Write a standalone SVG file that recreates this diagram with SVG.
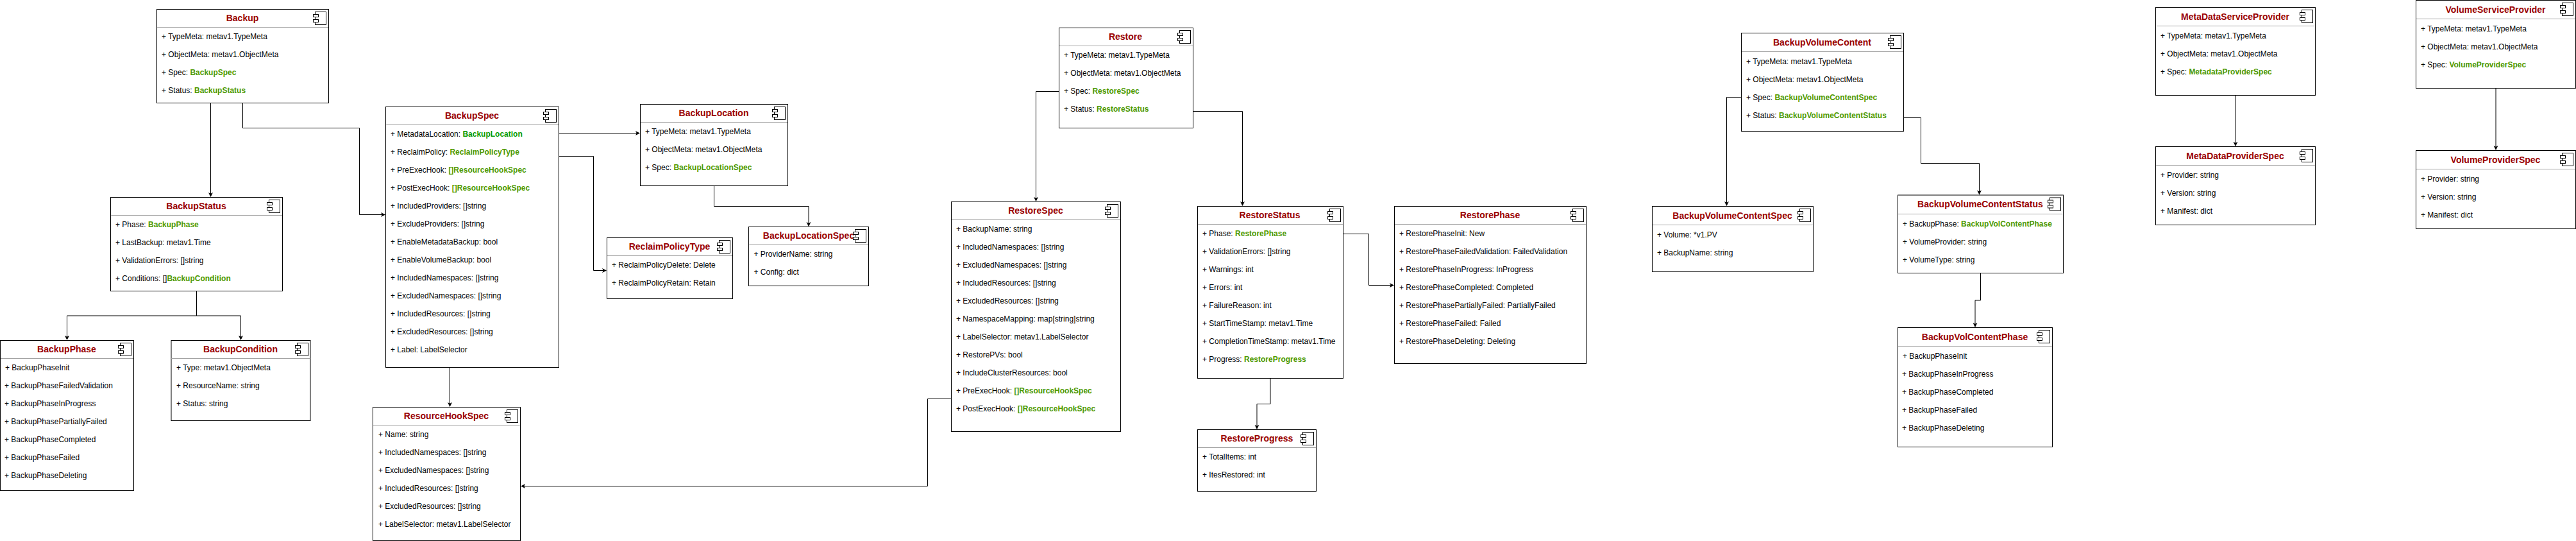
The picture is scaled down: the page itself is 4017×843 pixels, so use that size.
<svg xmlns="http://www.w3.org/2000/svg" width="4017" height="843" viewBox="0 0 4017 843">
<style>
text{font-family:"Liberation Sans",Arial,sans-serif}
.b{fill:#fff;stroke:#000;stroke-width:1}
.d{stroke:#a0a0a0;stroke-width:1;fill:none}
.t{font-size:14px;font-weight:bold;fill:#990000;text-anchor:middle}
.r{font-size:12px;fill:#000}
.g{font-weight:bold;fill:#4d9900}
.h{font-weight:bold;fill:#009900}
.c{fill:none;stroke:#000;stroke-width:1}
.i{fill:#fff;stroke:#000;stroke-width:1}
</style>
<defs>
<marker id="arrow" markerUnits="userSpaceOnUse" markerWidth="10" markerHeight="10" refX="4" refY="4" orient="auto" overflow="visible"><path d="M0,0.5 L7,4 L0,7.5 L1.75,4 Z" fill="#000"/></marker>
<g id="icon"><rect class="i" x="-21" y="4" width="17" height="20"/><rect class="i" x="-24" y="8" width="8" height="4"/><rect class="i" x="-24" y="16" width="8" height="4"/></g>
</defs>
<g id="Backup"><rect class="b" x="244.5" y="14.5" width="268" height="146"/><line class="d" x1="245" y1="42.5" x2="512" y2="42.5"/><text class="t" x="378" y="33">Backup</text><use href="#icon" transform="translate(512.5,14.5)"/>
<text class="r" x="252" y="61">+ TypeMeta: metav1.TypeMeta</text><text class="r" x="252" y="89">+ ObjectMeta: metav1.ObjectMeta</text><text class="r" x="252" y="117">+ Spec: <tspan class="g">BackupSpec</tspan></text><text class="r" x="252" y="145">+ Status: <tspan class="g">BackupStatus</tspan></text></g>
<g id="BackupStatus"><rect class="b" x="172.5" y="307.5" width="268" height="146"/><line class="d" x1="173" y1="335.5" x2="440" y2="335.5"/><text class="t" x="306" y="326">BackupStatus</text><use href="#icon" transform="translate(440.5,307.5)"/>
<text class="r" x="180" y="354">+ Phase: <tspan class="g">BackupPhase</tspan></text><text class="r" x="180" y="382">+ LastBackup: metav1.Time</text><text class="r" x="180" y="410">+ ValidationErrors: []string</text><text class="r" x="180" y="438">+ Conditions: []<tspan class="g">BackupCondition</tspan></text></g>
<g id="BackupPhase"><rect class="b" x="0.5" y="530.5" width="208" height="234"/><line class="d" x1="1" y1="558.5" x2="208" y2="558.5"/><text class="t" x="104" y="549">BackupPhase</text><use href="#icon" transform="translate(208.5,530.5)"/>
<text class="r" x="8" y="577">+ BackupPhaseInit</text><text class="r" x="7" y="605">+ BackupPhaseFailedValidation</text><text class="r" x="7" y="633">+ BackupPhaseInProgress</text><text class="r" x="7" y="661">+ BackupPhasePartiallyFailed</text><text class="r" x="7" y="689">+ BackupPhaseCompleted</text><text class="r" x="7" y="717">+ BackupPhaseFailed</text><text class="r" x="7" y="745">+ BackupPhaseDeleting</text></g>
<g id="BackupCondition"><rect class="b" x="267" y="530.5" width="217" height="125"/><line class="d" x1="267" y1="558.5" x2="484" y2="558.5"/><text class="t" x="375" y="549">BackupCondition</text><use href="#icon" transform="translate(484.5,530.5)"/>
<text class="r" x="275" y="577">+ Type: metav1.ObjectMeta</text><text class="r" x="275" y="605">+ ResourceName: string</text><text class="r" x="275" y="633">+ Status: string</text></g>
<g id="BackupSpec"><rect class="b" x="601.5" y="166.5" width="270" height="406"/><line class="d" x1="602" y1="194.5" x2="871" y2="194.5"/><text class="t" x="736" y="185">BackupSpec</text><use href="#icon" transform="translate(871.5,166.5)"/>
<text class="r" x="609" y="213">+ MetadataLocation: <tspan class="h">BackupLocation</tspan></text><text class="r" x="609" y="241">+ ReclaimPolicy: <tspan class="g">ReclaimPolicyType</tspan></text><text class="r" x="609" y="269">+ PreExecHook: <tspan class="g">[]ResourceHookSpec</tspan></text><text class="r" x="609" y="297">+ PostExecHook: <tspan class="g">[]ResourceHookSpec</tspan></text><text class="r" x="609" y="325">+ IncludedProviders: []string</text><text class="r" x="609" y="353">+ ExcludeProviders: []string</text><text class="r" x="609" y="381">+ EnableMetadataBackup: bool</text><text class="r" x="609" y="409">+ EnableVolumeBackup: bool</text><text class="r" x="609" y="437">+ IncludedNamespaces: []string</text><text class="r" x="609" y="465">+ ExcludedNamespaces: []string</text><text class="r" x="609" y="493">+ IncludedResources: []string</text><text class="r" x="609" y="521">+ ExcludedResources: []string</text><text class="r" x="609" y="549">+ Label: LabelSelector</text></g>
<g id="BackupLocation"><rect class="b" x="998.5" y="162.5" width="230" height="127"/><line class="d" x1="999" y1="190.5" x2="1228" y2="190.5"/><text class="t" x="1113" y="181">BackupLocation</text><use href="#icon" transform="translate(1228.5,162.5)"/>
<text class="r" x="1006" y="209">+ TypeMeta: metav1.TypeMeta</text><text class="r" x="1006" y="237">+ ObjectMeta: metav1.ObjectMeta</text><text class="r" x="1006" y="265">+ Spec: <tspan class="g">BackupLocationSpec</tspan></text></g>
<g id="ReclaimPolicyType"><rect class="b" x="946.5" y="370.5" width="196" height="95"/><line class="d" x1="947" y1="398.5" x2="1142" y2="398.5"/><text class="t" x="1044" y="389">ReclaimPolicyType</text><use href="#icon" transform="translate(1142.5,370.5)"/>
<text class="r" x="954" y="417">+ ReclaimPolicyDelete: Delete</text><text class="r" x="954" y="445">+ ReclaimPolicyRetain: Retain</text></g>
<g id="BackupLocationSpec"><rect class="b" x="1167.5" y="353.5" width="187" height="92"/><line class="d" x1="1168" y1="381.5" x2="1354" y2="381.5"/><text class="t" x="1261" y="372">BackupLocationSpec</text><use href="#icon" transform="translate(1354.5,353.5)"/>
<text class="r" x="1175.5" y="400">+ ProviderName: string</text><text class="r" x="1175.5" y="428">+ Config: dict</text></g>
<g id="ResourceHookSpec"><rect class="b" x="581.5" y="634.5" width="230" height="208"/><line class="d" x1="582" y1="662.5" x2="811" y2="662.5"/><text class="t" x="696" y="653">ResourceHookSpec</text><use href="#icon" transform="translate(811.5,634.5)"/>
<text class="r" x="590" y="681">+ Name: string</text><text class="r" x="590" y="709">+ IncludedNamespaces: []string</text><text class="r" x="590" y="737">+ ExcludedNamespaces: []string</text><text class="r" x="590" y="765">+ IncludedResources: []string</text><text class="r" x="590" y="793">+ ExcludedResources: []string</text><text class="r" x="590" y="821">+ LabelSelector: metav1.LabelSelector</text></g>
<g id="Restore"><rect class="b" x="1651.5" y="43.5" width="209" height="156"/><line class="d" x1="1652" y1="71.5" x2="1860" y2="71.5"/><text class="t" x="1755" y="62">Restore</text><use href="#icon" transform="translate(1860.5,43.5)"/>
<text class="r" x="1659" y="90">+ TypeMeta: metav1.TypeMeta</text><text class="r" x="1659" y="118">+ ObjectMeta: metav1.ObjectMeta</text><text class="r" x="1659" y="146">+ Spec: <tspan class="g">RestoreSpec</tspan></text><text class="r" x="1659" y="174">+ Status: <tspan class="g">RestoreStatus</tspan></text></g>
<g id="RestoreSpec"><rect class="b" x="1483.5" y="314.5" width="264" height="358"/><line class="d" x1="1484" y1="342.5" x2="1747" y2="342.5"/><text class="t" x="1615" y="333">RestoreSpec</text><use href="#icon" transform="translate(1747.5,314.5)"/>
<text class="r" x="1491" y="361">+ BackupName: string</text><text class="r" x="1491" y="389">+ IncludedNamespaces: []string</text><text class="r" x="1491" y="417">+ ExcludedNamespaces: []string</text><text class="r" x="1491" y="445">+ IncludedResources: []string</text><text class="r" x="1491" y="473">+ ExcludedResources: []string</text><text class="r" x="1491" y="501">+ NamespaceMapping: map[string]string</text><text class="r" x="1491" y="529">+ LabelSelector: metav1.LabelSelector</text><text class="r" x="1491" y="557">+ RestorePVs: bool</text><text class="r" x="1491" y="585">+ IncludeClusterResources: bool</text><text class="r" x="1491" y="613">+ PreExecHook: <tspan class="g">[]ResourceHookSpec</tspan></text><text class="r" x="1491" y="641">+ PostExecHook: <tspan class="g">[]ResourceHookSpec</tspan></text></g>
<g id="RestoreStatus"><rect class="b" x="1867.5" y="321.5" width="227" height="268"/><line class="d" x1="1868" y1="349.5" x2="2094" y2="349.5"/><text class="t" x="1980" y="340">RestoreStatus</text><use href="#icon" transform="translate(2094.5,321.5)"/>
<text class="r" x="1875" y="368">+ Phase: <tspan class="g">RestorePhase</tspan></text><text class="r" x="1875" y="396">+ ValidationErrors: []string</text><text class="r" x="1875" y="424">+ Warnings: int</text><text class="r" x="1875" y="452">+ Errors: int</text><text class="r" x="1875" y="480">+ FailureReason: int</text><text class="r" x="1875" y="508">+ StartTimeStamp: metav1.Time</text><text class="r" x="1875" y="536">+ CompletionTimeStamp: metav1.Time</text><text class="r" x="1875" y="564">+ Progress: <tspan class="g">RestoreProgress</tspan></text></g>
<g id="RestoreProgress"><rect class="b" x="1867.5" y="669.5" width="185" height="96"/><line class="d" x1="1868" y1="697.5" x2="2052" y2="697.5"/><text class="t" x="1960" y="688">RestoreProgress</text><use href="#icon" transform="translate(2052.5,669.5)"/>
<text class="r" x="1875" y="716">+ TotalItems: int</text><text class="r" x="1875" y="744">+ ItesRestored: int</text></g>
<g id="RestorePhase"><rect class="b" x="2174.5" y="321.5" width="299" height="245"/><line class="d" x1="2175" y1="349.5" x2="2473" y2="349.5"/><text class="t" x="2323.5" y="340">RestorePhase</text><use href="#icon" transform="translate(2473.5,321.5)"/>
<text class="r" x="2182" y="368">+ RestorePhaseInit: New</text><text class="r" x="2182" y="396">+ RestorePhaseFailedValidation: FailedValidation</text><text class="r" x="2182" y="424">+ RestorePhaseInProgress: InProgress</text><text class="r" x="2182" y="452">+ RestorePhaseCompleted: Completed</text><text class="r" x="2182" y="480">+ RestorePhasePartiallyFailed: PartiallyFailed</text><text class="r" x="2182" y="508">+ RestorePhaseFailed: Failed</text><text class="r" x="2182" y="536">+ RestorePhaseDeleting: Deleting</text></g>
<g id="BackupVolumeContent"><rect class="b" x="2715.5" y="51.5" width="253" height="153"/><line class="d" x1="2716" y1="80.5" x2="2968" y2="80.5"/><text class="t" x="2841.5" y="71">BackupVolumeContent</text><use href="#icon" transform="translate(2968.5,51.5)"/>
<text class="r" x="2723" y="100">+ TypeMeta: metav1.TypeMeta</text><text class="r" x="2723" y="128">+ ObjectMeta: metav1.ObjectMeta</text><text class="r" x="2723" y="156">+ Spec: <tspan class="g">BackupVolumeContentSpec</tspan></text><text class="r" x="2723" y="184">+ Status: <tspan class="g">BackupVolumeContentStatus</tspan></text></g>
<g id="BackupVolumeContentSpec"><rect class="b" x="2576.5" y="321.5" width="251" height="102"/><line class="d" x1="2577" y1="350.5" x2="2827" y2="350.5"/><text class="t" x="2701.5" y="341">BackupVolumeContentSpec</text><use href="#icon" transform="translate(2827.5,321.5)"/>
<text class="r" x="2584" y="370">+ Volume: *v1.PV</text><text class="r" x="2584" y="398">+ BackupName: string</text></g>
<g id="BackupVolumeContentStatus"><rect class="b" x="2959.5" y="304" width="258" height="121.5"/><line class="d" x1="2960" y1="333.5" x2="3217" y2="333.5"/><text class="t" x="3088" y="323">BackupVolumeContentStatus</text><use href="#icon" transform="translate(3217.5,304)"/>
<text class="r" x="2967" y="353">+ BackupPhase: <tspan class="g">BackupVolContentPhase</tspan></text><text class="r" x="2967" y="381">+ VolumeProvider: string</text><text class="r" x="2967" y="409">+ VolumeType: string</text></g>
<g id="BackupVolContentPhase"><rect class="b" x="2959.5" y="510.5" width="241" height="186"/><line class="d" x1="2960" y1="539.5" x2="3200" y2="539.5"/><text class="t" x="3079.5" y="530">BackupVolContentPhase</text><use href="#icon" transform="translate(3200.5,510.5)"/>
<text class="r" x="2967" y="559">+ BackupPhaseInit</text><text class="r" x="2966" y="587">+ BackupPhaseInProgress</text><text class="r" x="2966" y="615">+ BackupPhaseCompleted</text><text class="r" x="2966" y="643">+ BackupPhaseFailed</text><text class="r" x="2966" y="671">+ BackupPhaseDeleting</text></g>
<g id="MetaDataServiceProvider"><rect class="b" x="3361.5" y="11.5" width="249" height="137"/><line class="d" x1="3362" y1="40.5" x2="3610" y2="40.5"/><text class="t" x="3485.5" y="31">MetaDataServiceProvider</text><use href="#icon" transform="translate(3610.5,11.5)"/>
<text class="r" x="3369" y="60">+ TypeMeta: metav1.TypeMeta</text><text class="r" x="3369" y="88">+ ObjectMeta: metav1.ObjectMeta</text><text class="r" x="3369" y="116">+ Spec: <tspan class="g">MetadataProviderSpec</tspan></text></g>
<g id="MetaDataProviderSpec"><rect class="b" x="3361.5" y="228.5" width="249" height="122"/><line class="d" x1="3362" y1="257.5" x2="3610" y2="257.5"/><text class="t" x="3485.5" y="248">MetaDataProviderSpec</text><use href="#icon" transform="translate(3610.5,228.5)"/>
<text class="r" x="3369" y="277">+ Provider: string</text><text class="r" x="3369" y="305">+ Version: string</text><text class="r" x="3369" y="333">+ Manifest: dict</text></g>
<g id="VolumeServiceProvider"><rect class="b" x="3767.5" y="0.5" width="249" height="137"/><line class="d" x1="3768" y1="29.5" x2="4016" y2="29.5"/><text class="t" x="3891.5" y="20">VolumeServiceProvider</text><use href="#icon" transform="translate(4016.5,0.5)"/>
<text class="r" x="3775" y="49">+ TypeMeta: metav1.TypeMeta</text><text class="r" x="3775" y="77">+ ObjectMeta: metav1.ObjectMeta</text><text class="r" x="3775" y="105">+ Spec: <tspan class="g">VolumeProviderSpec</tspan></text></g>
<g id="VolumeProviderSpec"><rect class="b" x="3767.5" y="234.5" width="249" height="122"/><line class="d" x1="3768" y1="263.5" x2="4016" y2="263.5"/><text class="t" x="3891.5" y="254">VolumeProviderSpec</text><use href="#icon" transform="translate(4016.5,234.5)"/>
<text class="r" x="3775" y="283">+ Provider: string</text><text class="r" x="3775" y="311">+ Version: string</text><text class="r" x="3775" y="339">+ Manifest: dict</text></g>
<g id="connectors">
<path class="c" marker-end="url(#arrow)" d="M328.5,160.5V304"/>
<path class="c" marker-end="url(#arrow)" d="M378.5,160.5V199.5H560.5V334.5H598"/>
<path class="c" marker-end="url(#arrow)" d="M306.5,453.5V492H104.5V527"/>
<path class="c" marker-end="url(#arrow)" d="M306.5,453.5V492H375.5V527"/>
<path class="c" marker-end="url(#arrow)" d="M871.5,207.5H995"/>
<path class="c" marker-end="url(#arrow)" d="M871.5,243.5H925.5V421.5H943"/>
<path class="c" marker-end="url(#arrow)" d="M1113.5,289.5V321.5H1261V350"/>
<path class="c" marker-end="url(#arrow)" d="M701.5,572.5V631"/>
<path class="c" marker-end="url(#arrow)" d="M1483.5,621.5H1446.5V757.5H815"/>
<path class="c" marker-end="url(#arrow)" d="M1651.5,142.5H1615.5V311"/>
<path class="c" marker-end="url(#arrow)" d="M1860.5,173.5H1937.5V318"/>
<path class="c" marker-end="url(#arrow)" d="M2094.5,364.5H2134.5V444.5H2171"/>
<path class="c" marker-end="url(#arrow)" d="M1981,589.5V629.5H1960V666"/>
<path class="c" marker-end="url(#arrow)" d="M2715.5,151.5H2692.5V318"/>
<path class="c" marker-end="url(#arrow)" d="M2968.5,183.5H2995.5V254.5H3086.5V300.5"/>
<path class="c" marker-end="url(#arrow)" d="M3088.5,425.5V468H3080V507"/>
<path class="c" marker-end="url(#arrow)" d="M3486,148.5V225"/>
<path class="c" marker-end="url(#arrow)" d="M3892,137.5V231"/>
</g>
</svg>
